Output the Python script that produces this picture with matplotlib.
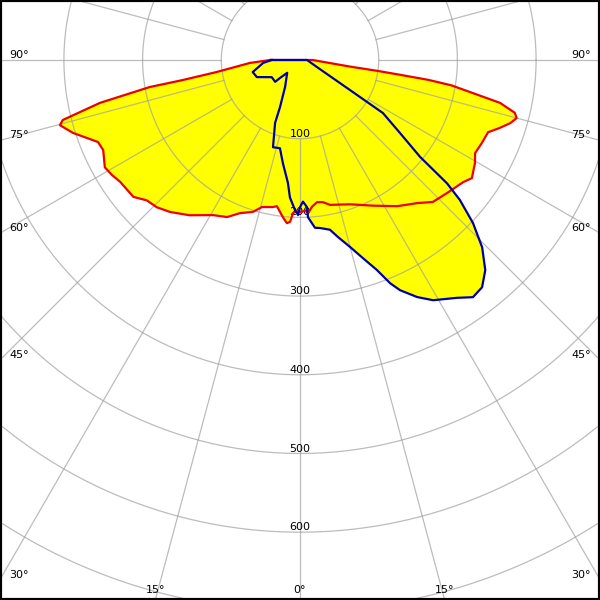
import numpy as np
import matplotlib
matplotlib.use("Agg")
import matplotlib.pyplot as plt

# C0-C180 plane (red), gamma in degrees, negative = left half
red_gamma = [-90, -86.6, -81.8, -80.3, -79.8, -77.9, -75.8, -74.8, -72.2, -67.9,
             -65.4, -61.2, -58.5, -55.9, -50.6, -47.5, -44.2, -40.5, -35.4, -29.3,
             -24.9, -21.4, -17.2, -14.5, -10.4, -9.0, -6.2, -4.6, -3.5, -2.6,
             -1.1, 0, 0.8, 1.9, 3.0, 4.7, 6.8, 9.2, 11.7, 19.1,
             26.6, 33.6, 39.3, 43.1, 47.9, 53.2, 55.5, 59.5, 62.0, 65.5,
             69.0, 71.2, 73.3, 75.0, 76.2, 77.9, 80.5, 81.2, 81.6, 82.0,
             82.5, 90]
red_cd = [38, 64, 107, 151, 194, 260, 311, 316, 303, 277,
          275, 283, 280, 276, 274, 264, 261, 254, 242, 226,
          220, 209, 202, 193, 190, 188, 201, 208, 206, 195,
          191, 193, 193, 191, 195, 187, 182, 183, 188, 194,
          207, 223, 235, 247, 252, 259, 265, 258, 252, 254,
          256, 268, 279, 285, 281, 260, 195, 165, 128, 100,
          64, 16]

# C90-C270 plane (blue)
blue_gamma = [-90, -85.4, -75.7, -68.4, -58.7, -48.7, -48.0, -45, -29, -23,
              -21.6, -17.2, -12.8, -9.4, -5.6, -4.2, -1.9, -0.7, 0, 1.2,
              2.7, 2.9, 4.2, 5.1, 6.8, 10, 12.1, 15, 17.6, 20.1,
              22, 23.5, 26.3, 29, 33.4, 36.1, 38.7, 41.4, 44.2, 46.7,
              48.8, 50, 51.1, 53.9, 57.4, 59, 67.6, 90]
blue_cd = [36, 47, 62, 59, 42, 42, 34, 23, 39, 65,
           86, 116, 115, 133, 157, 175, 191, 197, 187, 180,
           187, 200, 208, 214, 215, 219, 230, 246, 264, 284,
           306, 319, 336, 349, 362, 373, 370, 356, 332, 302,
           270, 244, 196, 157, 125, 74, 23, 9]

rings = [100, 200, 300, 400, 500, 600, 700, 800]
ring_labels = ["100", "200", "300", "400", "500", "600"]
spoke_angles = list(range(0, 360, 15))
edge_angles = [90, 75, 60, 45, 30, 15, 0]

px = 0.787  # pixels per cd
xlim = 300 / px
ytop = 60 / px
ybot = -540 / px


def to_xy(g, r):
    g = np.radians(np.asarray(g, dtype=float))
    r = np.asarray(r, dtype=float)
    return r * np.sin(g), -r * np.cos(g)


fig = plt.figure(figsize=(6, 6), dpi=100)
ax = fig.add_axes([0, 0, 1, 1])
ax.set_xlim(-xlim, xlim)
ax.set_ylim(ybot, ytop)
ax.set_aspect("equal")
ax.set_xticks([])
ax.set_yticks([])
for s in ax.spines.values():
    s.set_linewidth(3)
    s.set_color("black")

rx, ry = to_xy(red_gamma, red_cd)
bx, by = to_xy(blue_gamma, blue_cd)
ax.fill(rx, ry, color="#ffff00", lw=0, zorder=1)
ax.fill(bx, by, color="#ffff00", lw=0, zorder=1)

# grid
t = np.linspace(0, 2 * np.pi, 400)
for r in rings:
    ax.plot(r * np.cos(t), r * np.sin(t), color="#a0a0a0", alpha=0.7, lw=0.9, zorder=2)
for a in spoke_angles:
    x, y = to_xy([a, a], [100, 1200])
    ax.plot(x, y, color="#a0a0a0", alpha=0.7, lw=0.9, zorder=2)

for lab, r in zip(ring_labels, rings):
    ax.annotate(lab, (0, -r), xytext=(0, 2), textcoords="offset pixels",
                ha="center", va="baseline", fontsize=8, zorder=2.5)

# angle labels where spokes meet the frame
for a in edge_angles:
    g = np.radians(a)
    if a > 29.1:
        y = -xlim / np.tan(g) if a < 90 else 0
        for side in (-1, 1):
            ax.annotate(f"{a}°", (side * xlim, y), xytext=(-side * 9, 2),
                        textcoords="offset pixels", ha="left" if side < 0 else "right",
                        va="baseline", fontsize=8)
    else:
        x = -ybot * np.tan(g)
        for side in ((-1, 1) if a else (1,)):
            ax.annotate(f"{a}°", (side * x, ybot), xytext=(0, 7),
                        textcoords="offset pixels", ha="center",
                        va="baseline", fontsize=8)

ax.plot(np.append(rx, rx[0]), np.append(ry, ry[0]), color="#ee0000", lw=1.6, zorder=3)
ax.plot(np.append(bx, bx[0]), np.append(by, by[0]), color="#0000a8", lw=1.6, zorder=4)

fig.savefig("out.png", dpi=100)
